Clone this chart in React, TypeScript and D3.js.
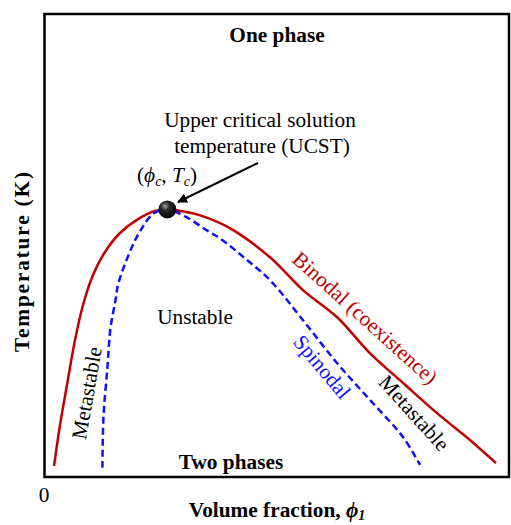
import React from "react";
import * as d3 from "d3";

// Binodal (coexistence) curve: [volume fraction, temperature] (normalised)
const binodalX = [0.0205, 0.0334, 0.0484, 0.0657, 0.0829, 0.1044, 0.1302, 0.1625, 0.2013, 0.2379, 0.2645, 0.303, 0.3355, 0.4, 0.486, 0.557, 0.630, 0.701, 0.772, 0.845, 0.916, 0.972];
const binodalY = [0.0238, 0.1123, 0.1987, 0.296, 0.3715, 0.4363, 0.486, 0.527, 0.557, 0.5745, 0.578, 0.573, 0.565, 0.537, 0.474, 0.403, 0.345, 0.267, 0.203, 0.138, 0.080, 0.030];

// Spinodal curve
const spinodalX = [0.1247, 0.1269, 0.1355, 0.142, 0.1527, 0.159, 0.185, 0.2065, 0.2344, 0.2645, 0.3075, 0.3505, 0.3785, 0.432, 0.486, 0.557, 0.630, 0.701, 0.772, 0.8086];
const spinodalY = [0.02, 0.129, 0.237, 0.321, 0.381, 0.418, 0.489, 0.532, 0.569, 0.578, 0.560, 0.532, 0.515, 0.472, 0.4246, 0.338, 0.2457, 0.166, 0.086, 0.026];

// Critical point (phi_c, T_c)
const criticalPoint = [0.2645, 0.578];

const W = 511;
const H = 525;
const FS = 21.3;
const FONT = "'Liberation Serif', 'Times New Roman', serif";

export default function App() {
  const x = d3.scaleLinear().domain([0, 1]).range([44.5, 509]);
  const y = d3.scaleLinear().domain([0, 1]).range([477, 14]);

  const line = d3
    .line<[number, number]>()
    .x((d) => x(d[0]))
    .y((d) => y(d[1]))
    .curve(d3.curveCatmullRom.alpha(0.5));

  const binodal = binodalX.map((v, i) => [v, binodalY[i]] as [number, number]);
  const spinodal = spinodalX.map((v, i) => [v, spinodalY[i]] as [number, number]);

  const cx = x(criticalPoint[0]);
  const cy = y(criticalPoint[1]);

  return (
    <svg
      width={W}
      height={H}
      style={{ position: "absolute", left: 0, top: 0, background: "#fff" }}
      fontFamily={FONT}
    >
      <defs>
        <radialGradient id="ball" cx="0.38" cy="0.32" r="0.7">
          <stop offset="0" stopColor="#9a9a9a" />
          <stop offset="0.35" stopColor="#2a2a2a" />
          <stop offset="1" stopColor="#000" />
        </radialGradient>
        <marker id="arrow" viewBox="0 0 10 10" refX="9" refY="5" markerWidth="5" markerHeight="5" orient="auto">
          <path d="M0,0 L10,5 L0,10 z" fill="#000" />
        </marker>
      </defs>

      <rect x={44.5} y={14} width={509 - 44.5} height={477 - 14} fill="none" stroke="#000" strokeWidth={2.5} />

      <path d={line(binodal) || ""} fill="none" stroke="#c00000" strokeWidth={2.5} />
      <path d={line(spinodal) || ""} fill="none" stroke="#1010ff" strokeWidth={2.5} strokeDasharray="7,4" />

      <line x1={258} y1={163} x2={178} y2={202} stroke="#000" strokeWidth={2} markerEnd="url(#arrow)" />
      <circle cx={cx} cy={cy} r={9} fill="url(#ball)" />

      <text x={277} y={42} textAnchor="middle" fontWeight="bold" fontSize={FS}>One phase</text>
      <text x={231} y={469} textAnchor="middle" fontWeight="bold" fontSize={FS}>Two phases</text>

      <text x={260} y={127} textAnchor="middle" fontSize={FS}>Upper critical solution</text>
      <text x={262} y={153} textAnchor="middle" fontSize={FS}>temperature (UCST)</text>

      <text x={137} y={182} fontSize={FS}>
        (<tspan fontStyle="italic">ϕ</tspan>
        <tspan fontStyle="italic" fontSize={14} dy={4}>c</tspan>
        <tspan dy={-4}>, </tspan>
        <tspan fontStyle="italic">T</tspan>
        <tspan fontStyle="italic" fontSize={14} dy={4}>c</tspan>
        <tspan dy={-4}>)</tspan>
      </text>

      <text x={195} y={324} textAnchor="middle" fontSize={FS}>Unstable</text>

      <text transform="translate(87,393) rotate(-80)" textAnchor="middle" dominantBaseline="central" fontSize={FS}>Metastable</text>
      <text transform="translate(365,318) rotate(42)" textAnchor="middle" dominantBaseline="central" fontSize={FS} fill="#c00000">Binodal (coexistence)</text>
      <text transform="translate(322,367) rotate(50)" textAnchor="middle" dominantBaseline="central" fontSize={FS} fill="#1010ff">Spinodal</text>
      <text transform="translate(414,413) rotate(48)" textAnchor="middle" dominantBaseline="central" fontSize={FS}>Metastable</text>

      <text x={44} y={502} textAnchor="middle" fontSize={FS}>0</text>

      <text transform="translate(22,262) rotate(-90)" textAnchor="middle" dominantBaseline="central" fontWeight="bold" fontSize={FS} textLength={180} lengthAdjust="spacing">Temperature (K)</text>
      <text x={277} y={517} textAnchor="middle" fontWeight="bold" fontSize={FS}>
        Volume fraction, <tspan fontStyle="italic">ϕ</tspan>
        <tspan fontStyle="italic" fontSize={14} dy={3}>1</tspan>
      </text>
    </svg>
  );
}
